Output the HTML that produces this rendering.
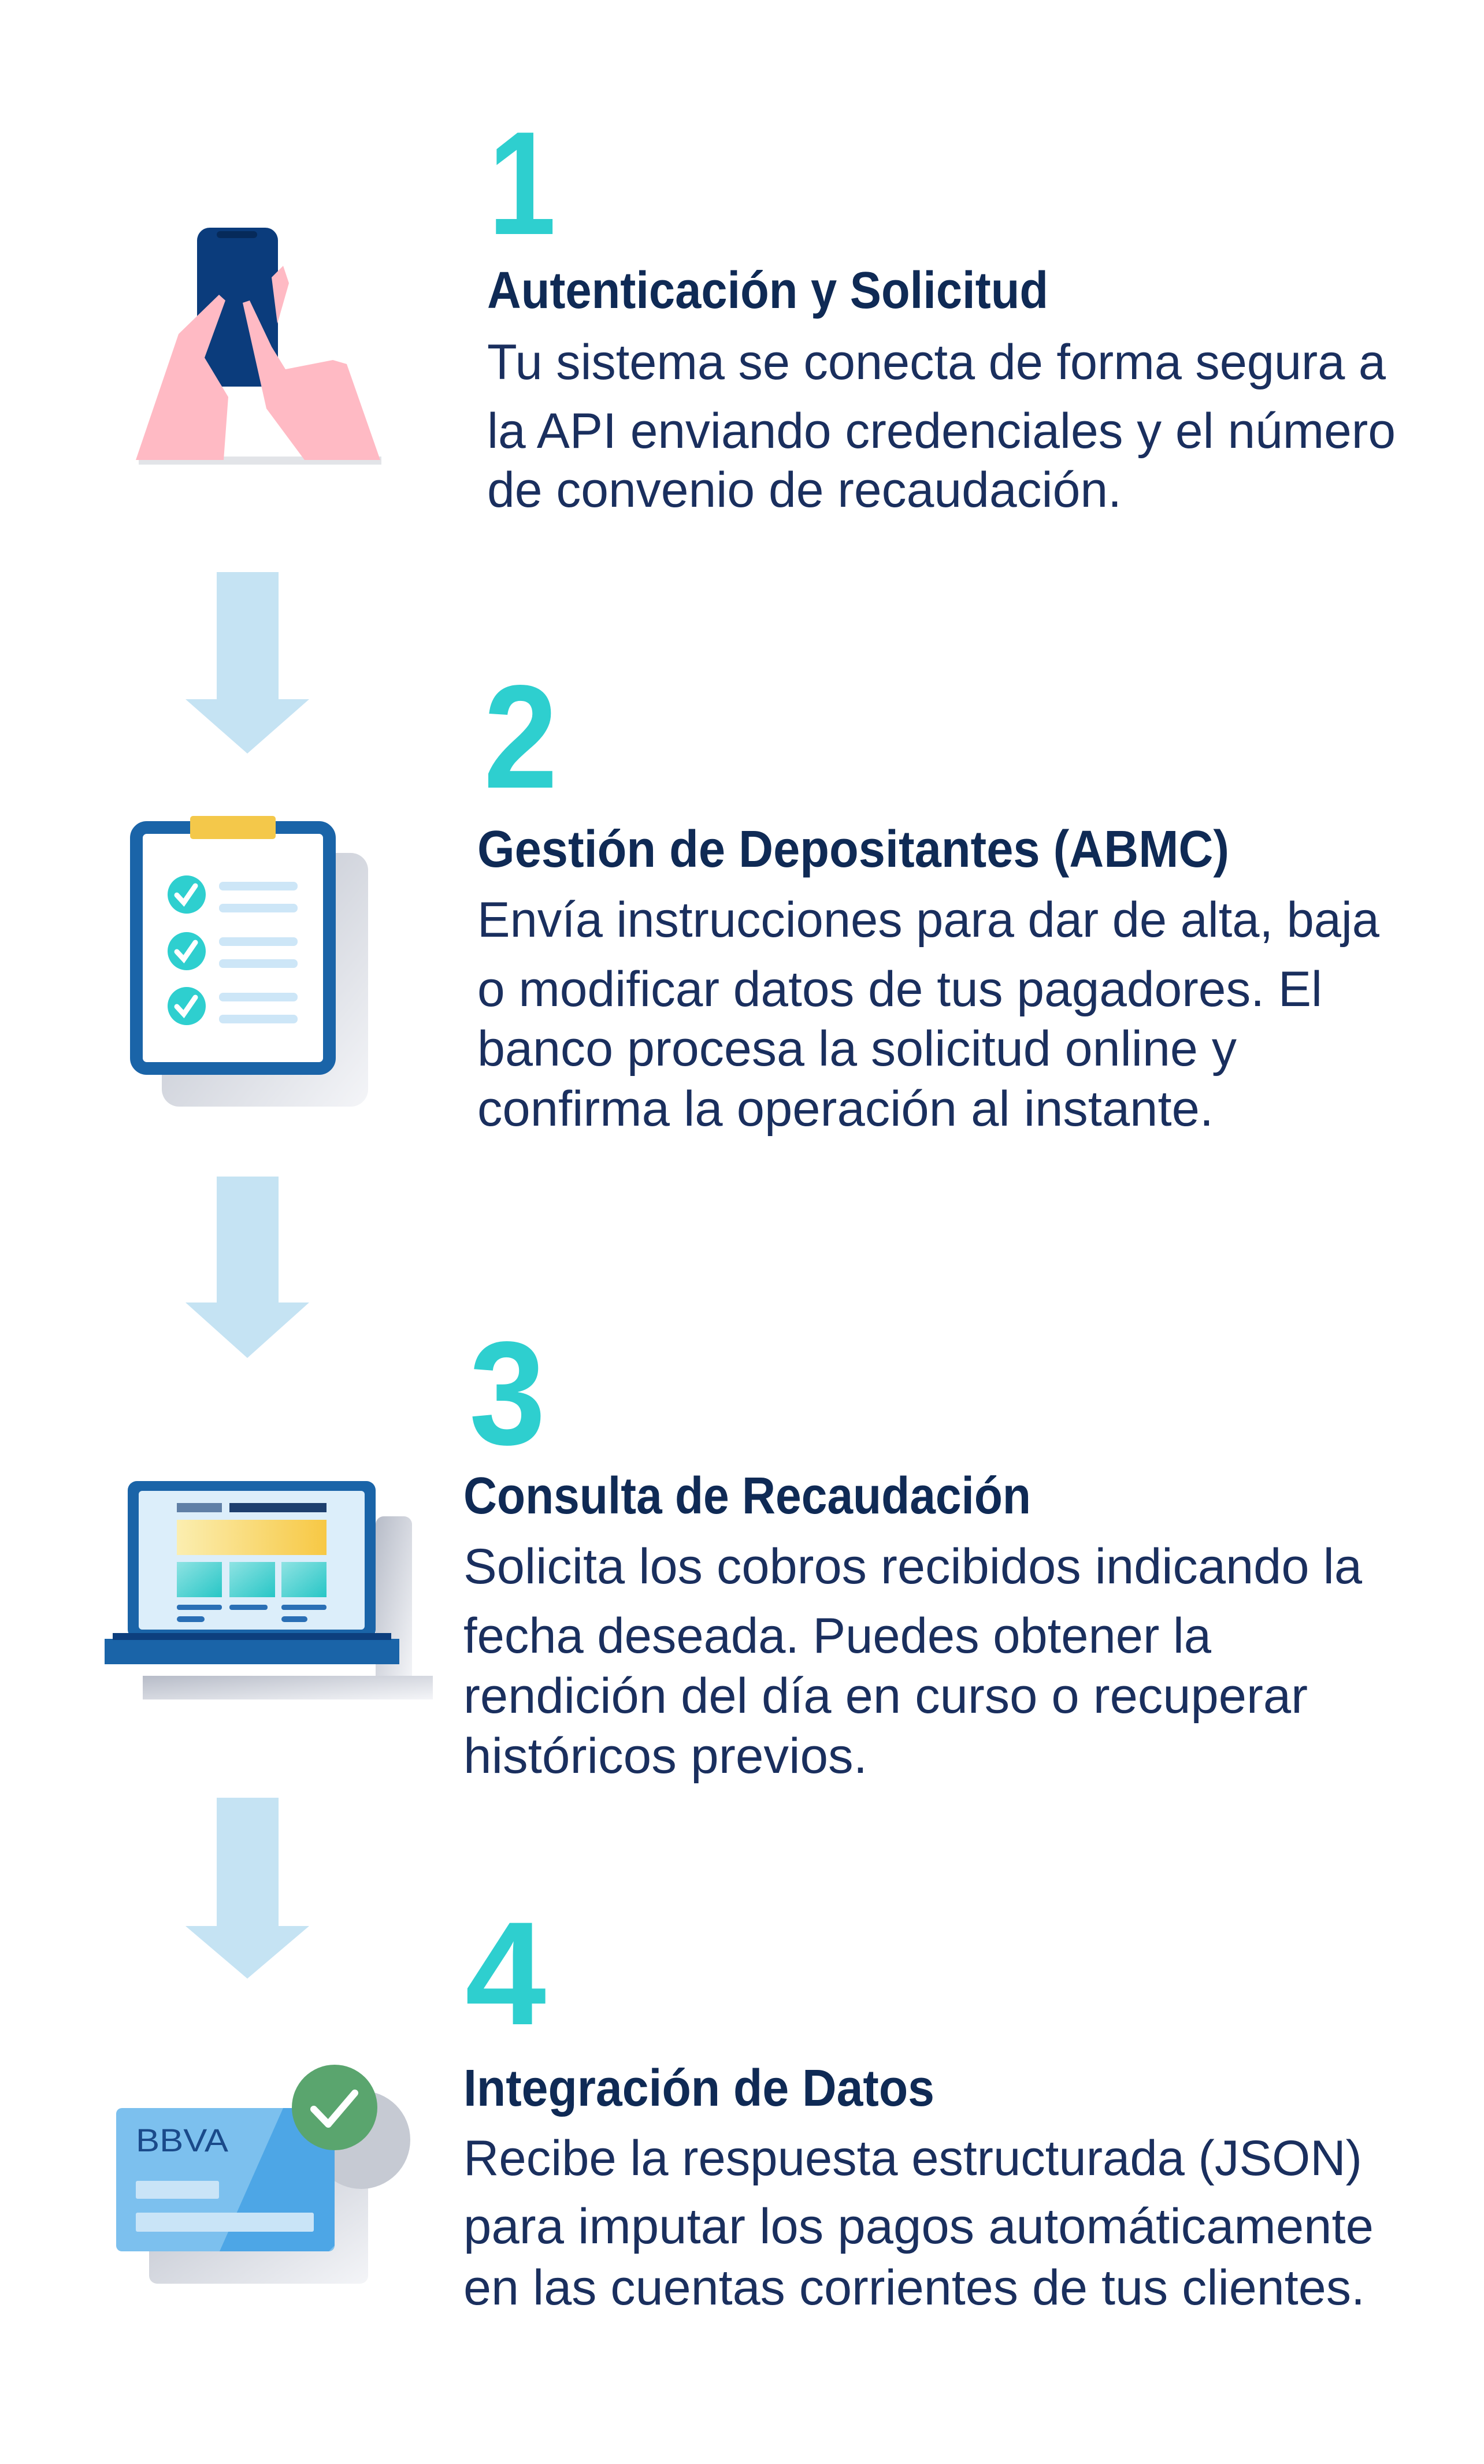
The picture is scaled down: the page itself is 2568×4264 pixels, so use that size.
<!DOCTYPE html>
<html><head><meta charset="utf-8"><style>
html,body{margin:0;padding:0;background:#fff;}
svg{display:block;}
.t{font-family:"Liberation Sans",sans-serif;font-weight:bold;fill:#0f2a55;font-size:90px;}
.b{font-family:"Liberation Sans",sans-serif;fill:#1a2f5e;font-size:86px;}
.n{font-family:"Liberation Sans",sans-serif;font-weight:bold;fill:#2ecfcf;font-size:255px;}
</style></head><body>
<svg width="2568" height="4264" viewBox="0 0 2568 4264" xmlns="http://www.w3.org/2000/svg">
<defs>
<linearGradient id="sh" x1="0" y1="0" x2="1" y2="1"><stop offset="0" stop-color="#b7bcc8"/><stop offset="1" stop-color="#f4f5f8"/></linearGradient>
<linearGradient id="yl" x1="0" y1="0" x2="1" y2="0"><stop offset="0" stop-color="#fbeeb0"/><stop offset="1" stop-color="#f7c844"/></linearGradient>
<linearGradient id="tl" x1="0" y1="0" x2="1" y2="1"><stop offset="0" stop-color="#8fe3e3"/><stop offset="1" stop-color="#27c6c6"/></linearGradient>
</defs>
<rect width="2568" height="4264" fill="#fff"/>

<g fill="#c5e3f3">
<rect x="375" y="990" width="107" height="222"/><polygon points="321,1210 535,1210 428,1304"/>
<rect x="375" y="2036" width="107" height="220"/><polygon points="321,2254 535,2254 428,2350"/>
<rect x="375" y="3111" width="107" height="224"/><polygon points="321,3333 535,3333 428,3424"/>
</g>

<rect x="240" y="790" width="420" height="14" fill="#d6d8de" opacity="0.7"/>
<rect x="341" y="394" width="140" height="275" rx="22" fill="#0b3c7c"/>
<rect x="375" y="400" width="70" height="12" rx="6" fill="#062a5a"/>
<polygon points="235,796 309,578 379,510 390,520 354,619 395,687 387,796" fill="#ffbac4"/>
<polygon points="420,524 432,520 470,600 494,639 576,623 600,630 658,796 527,796 461,707" fill="#ffbac4"/>
<polygon points="470,480 490,460 500,490 480,560" fill="#ffbac4"/>

<rect x="280" y="1476" width="357" height="439" rx="30" fill="url(#sh)"/>
<rect x="236" y="1432" width="334" height="417" rx="18" fill="#fff" stroke="#1a64a8" stroke-width="22"/>
<rect x="329" y="1412" width="148" height="40" rx="5" fill="#f4c84a"/>
<g fill="#2ecfcf"><circle cx="323" cy="1548" r="33"/><circle cx="323" cy="1646" r="33"/><circle cx="323" cy="1741" r="33"/></g>
<g fill="none" stroke="#fff" stroke-width="9" stroke-linecap="round"><polyline points="306,1549 318,1562 338,1533"/><polyline points="306,1647 318,1660 338,1631"/><polyline points="306,1742 318,1755 338,1726"/></g>
<g fill="#cde6f7"><rect x="379" y="1526" width="136" height="15" rx="7"/><rect x="379" y="1564" width="136" height="15" rx="7"/><rect x="379" y="1622" width="136" height="15" rx="7"/><rect x="379" y="1660" width="136" height="15" rx="7"/><rect x="379" y="1718" width="136" height="15" rx="7"/><rect x="379" y="1756" width="136" height="15" rx="7"/></g>

<rect x="650" y="2624" width="63" height="290" rx="14" fill="url(#sh)"/>
<rect x="247" y="2900" width="502" height="41" fill="url(#sh)"/>
<rect x="221" y="2563" width="429" height="273" rx="16" fill="#1a64a8"/>
<rect x="240" y="2580" width="391" height="240" rx="6" fill="#dceefa"/>
<rect x="181" y="2836" width="510" height="44" fill="#1a64a8"/>
<rect x="195" y="2826" width="482" height="12" fill="#0d3f7e"/>
<rect x="306" y="2601" width="78" height="16" fill="#5f7fa6"/><rect x="397" y="2601" width="168" height="16" fill="#1d3f6e"/>
<rect x="306" y="2630" width="259" height="61" fill="url(#yl)"/>
<rect x="306" y="2703" width="78" height="61" fill="url(#tl)"/><rect x="397" y="2703" width="79" height="61" fill="url(#tl)"/><rect x="487" y="2703" width="78" height="61" fill="url(#tl)"/>
<g fill="#2a6fb5"><rect x="306" y="2777" width="78" height="9" rx="4"/><rect x="397" y="2777" width="66" height="9" rx="4"/><rect x="487" y="2777" width="78" height="9" rx="4"/><rect x="306" y="2797" width="48" height="10" rx="5"/><rect x="487" y="2797" width="45" height="10" rx="5"/></g>

<rect x="258" y="3710" width="379" height="242" rx="14" fill="url(#sh)"/>
<circle cx="625" cy="3703" r="85" fill="#c6cad3"/>
<rect x="201" y="3648" width="378" height="248" rx="10" fill="#7cc0ee"/>
<polygon points="490,3648 569,3648 579,3660 579,3886 569,3896 380,3896" fill="#4da6e6"/>
<text x="235" y="3723" font-family="Liberation Sans,sans-serif" font-size="56" fill="#1a4a8a" textLength="160" lengthAdjust="spacingAndGlyphs">BBVA</text>
<rect x="235" y="3774" width="144" height="31" rx="3" fill="#c9e4f7"/>
<rect x="235" y="3829" width="308" height="33" rx="3" fill="#c9e4f7"/>
<circle cx="579" cy="3647" r="74" fill="#5aa56e"/>
<polyline points="543,3650 568,3676 614,3622" fill="none" stroke="#fff" stroke-width="12" stroke-linecap="round" stroke-linejoin="round"/>

<text class="n" x="845" y="405" textLength="117" lengthAdjust="spacingAndGlyphs">1</text>
<text class="t" x="843" y="533" textLength="971" lengthAdjust="spacingAndGlyphs">Autenticación y Solicitud</text>
<text class="b" x="843" y="656" textLength="1555" lengthAdjust="spacingAndGlyphs">Tu sistema se conecta de forma segura a</text>
<text class="b" x="843" y="775" textLength="1572" lengthAdjust="spacingAndGlyphs">la API enviando credenciales y el número</text>
<text class="b" x="843" y="877" textLength="1098" lengthAdjust="spacingAndGlyphs">de convenio de recaudación.</text>

<text class="n" x="837" y="1363" textLength="128" lengthAdjust="spacingAndGlyphs">2</text>
<text class="t" x="826" y="1500" textLength="1301" lengthAdjust="spacingAndGlyphs">Gestión de Depositantes (ABMC)</text>
<text class="b" x="826" y="1621" textLength="1561" lengthAdjust="spacingAndGlyphs">Envía instrucciones para dar de alta, baja</text>
<text class="b" x="826" y="1741" textLength="1462" lengthAdjust="spacingAndGlyphs">o modificar datos de tus pagadores. El</text>
<text class="b" x="826" y="1844" textLength="1314" lengthAdjust="spacingAndGlyphs">banco procesa la solicitud online y</text>
<text class="b" x="826" y="1948" textLength="1274" lengthAdjust="spacingAndGlyphs">confirma la operación al instante.</text>

<text class="n" x="812" y="2499" textLength="132" lengthAdjust="spacingAndGlyphs">3</text>
<text class="t" x="802" y="2619" textLength="982" lengthAdjust="spacingAndGlyphs">Consulta de Recaudación</text>
<text class="b" x="802" y="2740" textLength="1555" lengthAdjust="spacingAndGlyphs">Solicita los cobros recibidos indicando la</text>
<text class="b" x="802" y="2860" textLength="1294" lengthAdjust="spacingAndGlyphs">fecha deseada. Puedes obtener la</text>
<text class="b" x="802" y="2964" textLength="1461" lengthAdjust="spacingAndGlyphs">rendición del día en curso o recuperar</text>
<text class="b" x="802" y="3068" textLength="699" lengthAdjust="spacingAndGlyphs">históricos previos.</text>

<text class="n" x="805" y="3503" textLength="140" lengthAdjust="spacingAndGlyphs">4</text>
<text class="t" x="802" y="3644" textLength="815" lengthAdjust="spacingAndGlyphs">Integración de Datos</text>
<text class="b" x="802" y="3764" textLength="1555" lengthAdjust="spacingAndGlyphs">Recibe la respuesta estructurada (JSON)</text>
<text class="b" x="802" y="3882" textLength="1575" lengthAdjust="spacingAndGlyphs">para imputar los pagos automáticamente</text>
<text class="b" x="802" y="3988" textLength="1560" lengthAdjust="spacingAndGlyphs">en las cuentas corrientes de tus clientes.</text>
</svg>
</body></html>
